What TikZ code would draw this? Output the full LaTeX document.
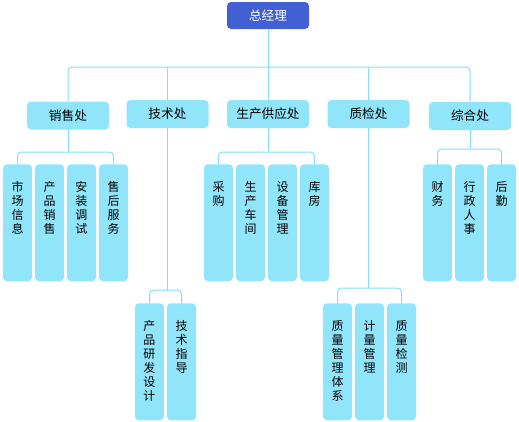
\documentclass[tikz,border=0pt]{standalone}
\usepackage{fontspec}
\newfontfamily\cjk{Noto Sans CJK SC}
\usetikzlibrary{positioning}
\definecolor{boxc}{RGB}{145,229,250}
\definecolor{linec}{RGB}{128,222,255}
\definecolor{topc}{RGB}{66,96,212}
\tikzset{
    % Define box styles
    head/.style={fill=topc, text=white, rounded corners=3pt,
           minimum width=61.5pt, minimum height=20.25pt,
           font=\cjk\fontsize{9.5}{11}\selectfont},
    dept/.style={fill=boxc, rounded corners=3pt,
           minimum width=61.5pt, minimum height=21pt,
           font=\cjk\fontsize{9.5}{11}\selectfont},
    vlab/.style={anchor=north, yshift=-13pt, inner sep=0pt, align=center,
           font=\cjk\fontsize{9}{10.5}\selectfont},
    sub/.style={fill=boxc, rounded corners=3pt, anchor=north, inner sep=0pt,
           minimum width=21.75pt, minimum height=87.75pt,
           label={[vlab]north:#1}},
    % Define connector style
    link/.style={draw=linec, line width=0.75pt, rounded corners=3pt}
}
\begin{document}
\begin{tikzpicture}[x=0.75pt,y=-0.75pt]
\useasboundingbox (0,0) rectangle (519,422);

\node[head] (gm) at (268,15.5) {总经理};

\node[dept] (xs) at (68,115.5) {销售处};
\node[dept] (js) at (167.5,114) {技术处};
\node[dept] (sc) at (268,114) {生产供应处};
\node[dept] (zj) at (368.5,114) {质检处};
\node[dept] (zh) at (470,116) {综合处};

% top bus
\draw[link] (xs.north) -- (xs.north |- 0,67) -- (zh.north |- 0,67) -- (zh.north);
\draw[link] (gm.south) -- (gm.south |- 0,67);
\foreach \n in {js,sc,zj}
  \draw[link] (\n.north) -- (\n.north |- 0,67);

% sales
\foreach \txt [count=\i] in {{市\\场\\信\\息},{产\\品\\销\\售},{安\\装\\调\\试},{售\\后\\服\\务}}
  \node[sub=\txt] (xs\i) at ({17.5+32*(\i-1)},164) {};
\draw[link] (xs1.north) -- ++(0,-12) -| (xs4.north);
\draw[link] (xs.south) -- (xs.south |- 0,152);

% production
\foreach \txt [count=\i] in {{采\\购},{生\\产\\车\\间},{设\\备\\管\\理},{库\\房}}
  \node[sub=\txt] (sc\i) at ({218.5+32*(\i-1)},164) {};
\draw[link] (sc1.north) -- ++(0,-12) -| (sc4.north);
\draw[link] (sc.south) -- (sc.south |- 0,152);

% general affairs
\foreach \txt [count=\i] in {{财\\务},{行\\政\\人\\事},{后\\勤}}
  \node[sub=\txt] (zh\i) at ({437.5+32*(\i-1)},164) {};
\draw[link] (zh1.north) -- ++(0,-15) -| (zh3.north);
\draw[link] (zh.south) -- (zh.south |- 0,149);

% technology
\foreach \txt [count=\i] in {{产\\品\\研\\发\\设\\计},{技\\术\\指\\导}}
  \node[sub=\txt] (js\i) at ({149.5+32*(\i-1)},303) {};
\draw[link] (js1.north) -- ++(0,-13) -| (js2.north);
\draw[link] (js.south) -- (js.south |- 0,290);

% quality
\foreach \txt [count=\i] in {{质\\量\\管\\理\\体\\系},{计\\量\\管\\理},{质\\量\\检\\测}}
  \node[sub=\txt] (zj\i) at ({337.5+32*(\i-1)},303) {};
\draw[link] (zj1.north) -- ++(0,-15) -| (zj3.north);
\draw[link] (zj.south) -- (zj.south |- 0,288);

\end{tikzpicture}
\end{document}
